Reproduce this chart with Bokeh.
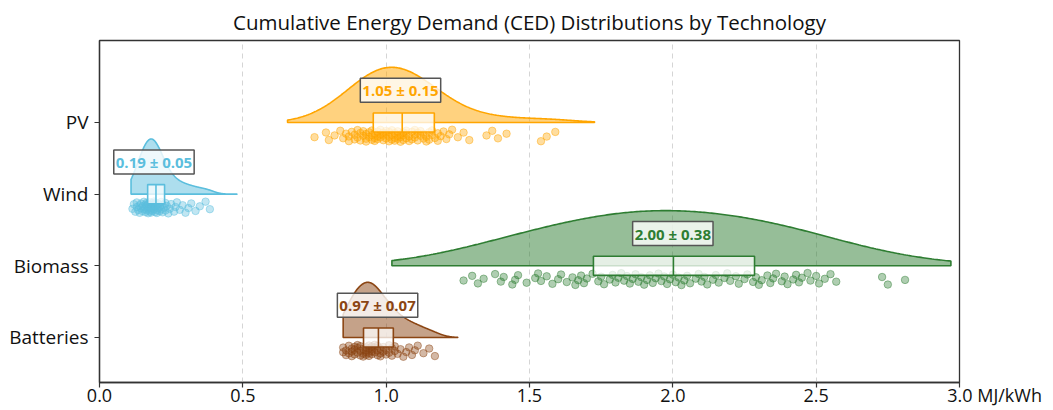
import numpy as np
from bokeh.plotting import figure
from bokeh.models import Range1d, FixedTicker, PrintfTickFormatter, Label
from bokeh.embed import file_html
from bokeh.resources import INLINE

# ---------------- data ----------------
techs = ["PV", "Wind", "Biomass", "Batteries"]
colors = ["#FFA500", "#5BBEDD", "#2E7D32", "#8B4513"]
means = [1.05, 0.19, 2.00, 0.97]
sds = [0.15, 0.05, 0.38, 0.07]
q1 = [0.955, 0.168, 1.723, 0.921]
medians = [1.056, 0.197, 2.002, 0.973]
q3 = [1.168, 0.227, 2.285, 1.025]
dens_lo = [0.656, 0.11, 1.02, 0.85]
dens_hi = [1.727, 0.48, 2.97, 1.25]
bw_scale = [1.5, 1.0, 1.7, 1.0]

pv_pts = [0.75, 0.79, 0.80, 0.82, 0.84, 0.85, 0.86, 0.87, 0.87, 0.88, 0.89, 0.89,
          0.90, 0.90, 0.91, 0.91, 0.92, 0.92, 0.93, 0.93, 0.93, 0.94, 0.94, 0.95,
          0.95, 0.95, 0.96, 0.96, 0.96, 0.97, 0.97, 0.97, 0.98, 0.98, 0.98, 0.99,
          0.99, 0.99, 1.00, 1.00, 1.00, 1.01, 1.01, 1.01, 1.02, 1.02, 1.02, 1.03,
          1.03, 1.03, 1.04, 1.04, 1.04, 1.05, 1.05, 1.05, 1.06, 1.06, 1.06, 1.07,
          1.07, 1.07, 1.08, 1.08, 1.09, 1.09, 1.10, 1.10, 1.10, 1.11, 1.11, 1.12,
          1.12, 1.13, 1.13, 1.14, 1.14, 1.15, 1.15, 1.16, 1.16, 1.17, 1.18, 1.18,
          1.19, 1.20, 1.21, 1.22, 1.23, 1.25, 1.27, 1.29, 1.35, 1.37, 1.39, 1.42,
          1.54, 1.56, 1.59]
wind_pts = [0.115, 0.12, 0.125, 0.13, 0.13, 0.135, 0.14, 0.14, 0.145, 0.145, 0.15,
            0.15, 0.155, 0.155, 0.16, 0.16, 0.16, 0.165, 0.165, 0.165, 0.17, 0.17,
            0.17, 0.175, 0.175, 0.175, 0.18, 0.18, 0.18, 0.18, 0.185, 0.185, 0.185,
            0.19, 0.19, 0.19, 0.195, 0.195, 0.195, 0.20, 0.20, 0.20, 0.205, 0.205,
            0.21, 0.21, 0.215, 0.215, 0.22, 0.22, 0.225, 0.23, 0.23, 0.235, 0.24,
            0.245, 0.25, 0.26, 0.265, 0.27, 0.28, 0.29, 0.30, 0.31, 0.32, 0.335,
            0.35, 0.37, 0.385]
biomass_pts = [1.27, 1.30, 1.32, 1.34, 1.38, 1.40, 1.41, 1.44, 1.45, 1.46, 1.49,
               1.52, 1.53, 1.54, 1.56, 1.58, 1.60, 1.61, 1.63, 1.65, 1.66, 1.67,
               1.68, 1.69, 1.70, 1.72, 1.74, 1.75, 1.76, 1.78, 1.79, 1.80, 1.81,
               1.82, 1.83, 1.84, 1.85, 1.86, 1.87, 1.88, 1.89, 1.90, 1.91, 1.92,
               1.93, 1.94, 1.95, 1.96, 1.97, 1.98, 1.99, 2.00, 2.01, 2.02, 2.03,
               2.04, 2.05, 2.06, 2.08, 2.09, 2.10, 2.11, 2.12, 2.14, 2.15, 2.16,
               2.18, 2.19, 2.20, 2.22, 2.23, 2.25, 2.26, 2.28, 2.29, 2.30, 2.31,
               2.33, 2.34, 2.35, 2.36, 2.38, 2.39, 2.40, 2.42, 2.43, 2.44, 2.45,
               2.47, 2.48, 2.50, 2.51, 2.53, 2.55, 2.57, 2.73, 2.75, 2.81]
battery_pts = [0.85, 0.85, 0.86, 0.86, 0.87, 0.87, 0.88, 0.88, 0.88, 0.89, 0.89,
               0.89, 0.90, 0.90, 0.90, 0.91, 0.91, 0.91, 0.92, 0.92, 0.92, 0.93,
               0.93, 0.93, 0.93, 0.94, 0.94, 0.94, 0.94, 0.95, 0.95, 0.95, 0.95,
               0.96, 0.96, 0.96, 0.97, 0.97, 0.97, 0.98, 0.98, 0.98, 0.99, 0.99,
               1.00, 1.00, 1.01, 1.01, 1.02, 1.02, 1.03, 1.03, 1.04, 1.05, 1.06,
               1.07, 1.08, 1.09, 1.10, 1.11, 1.13, 1.15, 1.17]
samples = [pv_pts, wind_pts, biomass_pts, battery_pts]

x_ticks = [0.0, 0.5, 1.0, 1.5, 2.0, 2.5, 3.0]
x_unit = "MJ/kWh"
title = "Cumulative Energy Demand (CED) Distributions by Technology"

# ---------------- styling ----------------
FONT = "Open Sans"
ypos = [len(techs) - 1 - i for i in range(len(techs))]
VIOLIN_H = 0.77
BOX_HALF = 0.133
PHI = 0.6180339887


def kde(pts, grid, scale):
    pts = np.asarray(pts, dtype=float)
    bw = scale * pts.std(ddof=1) * len(pts) ** (-0.2)
    return np.exp(-0.5 * ((grid[:, None] - pts[None, :]) / bw) ** 2).sum(axis=1)


p = figure(width=1050, height=410,
           x_range=Range1d(0, 3), y_range=Range1d(-0.628, 4.144),
           output_backend="svg", toolbar_location=None, title=title)
p.min_border_left = 99
p.min_border_right = 91
p.min_border_top = 40
p.min_border_bottom = 28

p.title.text_font = FONT
p.title.text_font_size = "20.5px"
p.title.text_font_style = "normal"
p.title.text_color = "#111111"
p.title.align = "center"

for i, t in enumerate(techs):
    y0 = ypos[i]
    c = colors[i]
    grid = np.linspace(dens_lo[i], dens_hi[i], 300)
    d = kde(samples[i], grid, bw_scale[i])
    top = y0 + d / d.max() * VIOLIN_H
    xs = np.concatenate([grid, grid[::-1]])
    ys = np.concatenate([top, np.full_like(grid, y0)])
    p.patch(xs, ys, fill_color=c, fill_alpha=0.5, line_color=c, line_width=1.6)

    pts = np.asarray(samples[i])
    jit = np.array([((k + 1) * PHI) % 1.0 for k in range(len(pts))])
    p.scatter(pts, y0 - (0.1 + 0.17 * jit), size=7.5, fill_color=c, fill_alpha=0.38,
              line_color=c, line_alpha=0.45, line_width=1)

    p.quad(left=[q1[i]], right=[q3[i]], bottom=[y0 - BOX_HALF], top=[y0 + BOX_HALF],
           fill_color="white", fill_alpha=0.75, line_color=c, line_width=1.6)
    p.segment(x0=[medians[i]], y0=[y0 - BOX_HALF], x1=[medians[i]], y1=[y0 + BOX_HALF],
              line_color=c, line_width=1.6)

    lab = Label(x=means[i], y=y0 + 0.45, text=f"{means[i]:.2f} ± {sds[i]:.2f}",
                text_font=FONT, text_font_size="15px", text_font_style="bold",
                text_color=c, text_align="center", text_baseline="middle",
                background_fill_color="white", background_fill_alpha=0.8,
                border_line_color="#555555", border_line_width=1.5, padding=2)
    p.add_layout(lab)

# last tick label carries the unit; non-breaking spaces keep "3.0" centred on its tick
pad = "\u00a0" * 15
p.xaxis.ticker = FixedTicker(ticks=x_ticks)
p.xaxis.formatter = PrintfTickFormatter(format="%.1f")
p.xaxis.major_label_overrides = {x_ticks[-1]: f"{pad}{x_ticks[-1]:.1f} {x_unit}"}
p.yaxis.ticker = FixedTicker(ticks=ypos)
p.yaxis.major_label_overrides = {ypos[i]: techs[i] for i in range(len(techs))}

for ax in (p.xaxis[0], p.yaxis[0]):
    ax.major_label_text_font = FONT
    ax.major_label_text_color = "#111111"
    ax.axis_line_color = "#333333"
    ax.axis_line_width = 1.3
    ax.major_tick_line_color = "#333333"
    ax.major_tick_line_width = 1.2
    ax.major_tick_out = 5
    ax.major_tick_in = 0
    ax.minor_tick_line_color = None
p.xaxis.major_label_text_font_size = "18px"
p.yaxis.major_label_text_font_size = "19px"
p.xaxis.major_label_standoff = -5
p.yaxis.major_label_standoff = 6

p.xgrid.ticker = FixedTicker(ticks=x_ticks)
p.xgrid.grid_line_color = "#d5d5d5"
p.xgrid.grid_line_dash = "5 4"
p.xgrid.grid_line_width = 1
p.ygrid.grid_line_color = None
p.outline_line_color = "#333333"
p.outline_line_width = 1.3
p.background_fill_color = "white"
p.border_fill_color = "white"

open("out.html", "w").write(file_html(p, INLINE))
